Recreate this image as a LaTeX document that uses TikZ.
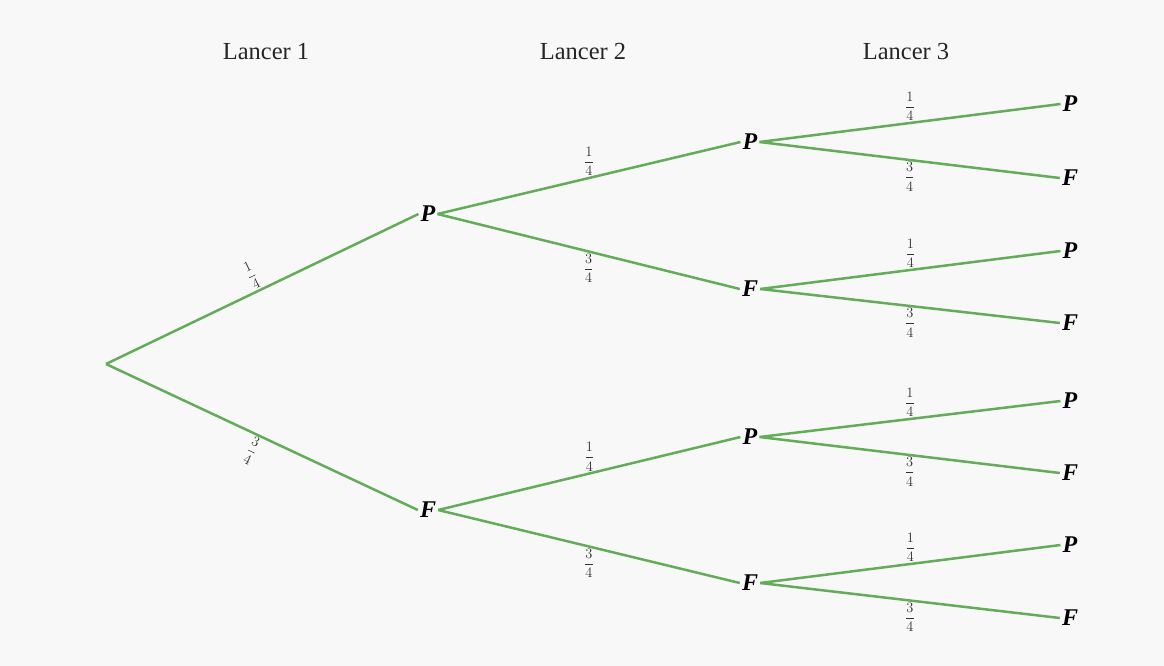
\documentclass[tikz,border=0pt]{standalone}
\usepackage{amsmath}
\usepackage{fontspec}
\setmainfont{Liberation Serif}
\definecolor{branch}{RGB}{100,172,90}
\definecolor{bg}{RGB}{248,248,248}
\tikzset{
  lvl/.style={font=\fontsize{24}{26}\selectfont\bfseries\itshape, inner sep=2pt},
  hdr/.style={font=\fontsize{24.5}{26}\selectfont, text=black!85},
  br/.style={draw=branch, line width=2.5pt},
  pr/.style={font=\fontsize{14}{16}\selectfont, inner sep=1pt, text=black!80}
}
\newcommand{\qa}{$\dfrac{1}{4}$}
\newcommand{\qb}{$\dfrac{3}{4}$}
\begin{document}
\begin{tikzpicture}[x=1pt,y=-1pt]
\fill[bg] (0,0) rectangle (1164,666);
\useasboundingbox (0,0) rectangle (1164,666);
% headers
\node[hdr] (h1) at (266,52) {Lancer 1};
\node[hdr] (h2) at (583,52) {Lancer 2};
\node[hdr] (h3) at (906,52) {Lancer 3};
% root
\coordinate (r) at (106,364);
% level 1
\node[lvl] (a) at (428,214) {P};
\node[lvl] (b) at (428,510) {F};
% level 2
\node[lvl] (aa) at (750,142) {P};
\node[lvl] (ab) at (750,289) {F};
\node[lvl] (ba) at (750,437) {P};
\node[lvl] (bb) at (750,583) {F};
% level 3
\node[lvl] (aaa) at (1070,104) {P};
\node[lvl] (aab) at (1070,178) {F};
\node[lvl] (aba) at (1070,251) {P};
\node[lvl] (abb) at (1070,323) {F};
\node[lvl] (baa) at (1070,401) {P};
\node[lvl] (bab) at (1070,473) {F};
\node[lvl] (bba) at (1070,545) {P};
\node[lvl] (bbb) at (1070,618) {F};
% level 1 branches
\draw[br] (r) -- node[pr, sloped, above, pos=0.49] {\qa} (a.west);
\draw[br] (r) -- node[pr, sloped, below, pos=0.49] {\qb} (b.west);
% level 2 branches
\draw[br] (a.east) -- node[pr, above] {\qa} (aa.west);
\draw[br] (a.east) -- node[pr, below] {\qb} (ab.west);
\draw[br] (b.east) -- node[pr, above] {\qa} (ba.west);
\draw[br] (b.east) -- node[pr, below] {\qb} (bb.west);
% level 3 branches
\draw[br] (aa.east) -- node[pr, above] {\qa} (aaa.west);
\draw[br] (aa.east) -- node[pr, below] {\qb} (aab.west);
\draw[br] (ab.east) -- node[pr, above] {\qa} (aba.west);
\draw[br] (ab.east) -- node[pr, below] {\qb} (abb.west);
\draw[br] (ba.east) -- node[pr, above] {\qa} (baa.west);
\draw[br] (ba.east) -- node[pr, below] {\qb} (bab.west);
\draw[br] (bb.east) -- node[pr, above] {\qa} (bba.west);
\draw[br] (bb.east) -- node[pr, below] {\qb} (bbb.west);
\end{tikzpicture}
\end{document}
